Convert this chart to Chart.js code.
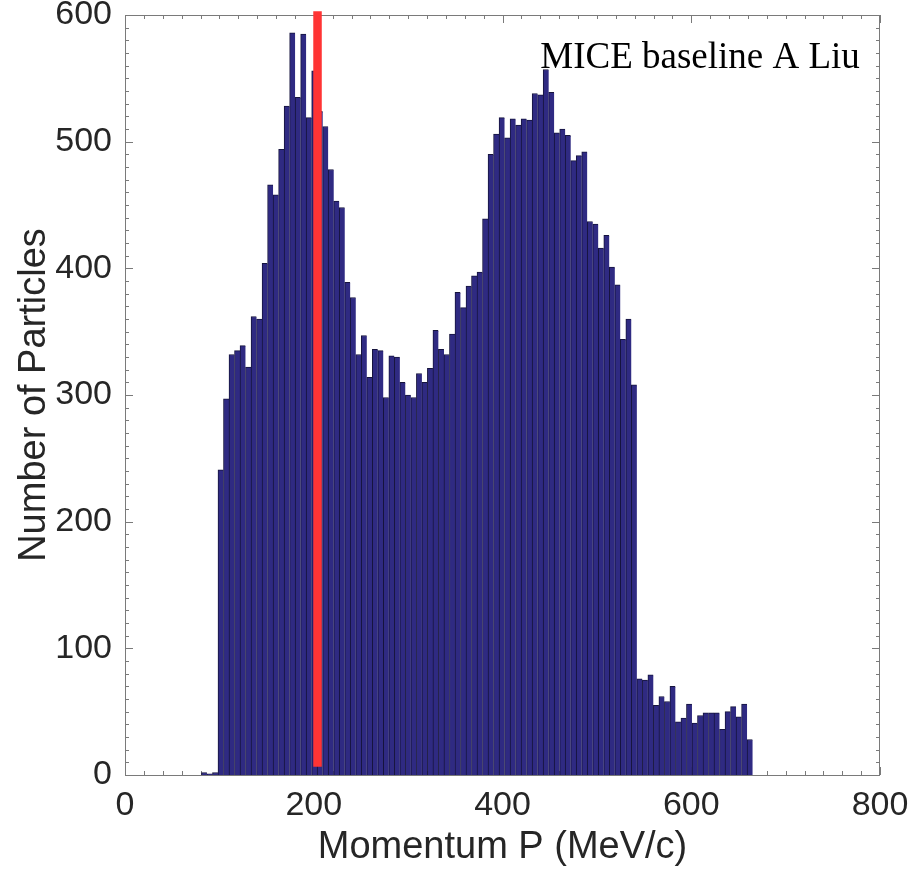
<!DOCTYPE html>
<html>
<head>
<meta charset="utf-8">
<script src="https://cdn.jsdelivr.net/npm/chart.js@4/dist/chart.umd.min.js"></script>
<style>
  html, body { margin: 0; padding: 0; background: #ffffff; }
  #wrap { width: 912px; height: 872px; }
</style>
</head>
<body>
<div id="wrap"><canvas id="c" width="912" height="872"></canvas></div>
<script>
// ---- data ----
const binStart = 81.0;      // MeV/c, left edge of first bin
const binWidth = 5.84;      // MeV/c
const counts = [
  2, 1, 2, 241, 297, 332, 335, 339, 322, 362,
  360, 404, 466, 458, 494, 528, 586, 535, 585, 519,
  556, 524, 512, 478, 453, 448, 389, 377, 332, 347,
  314, 336, 335, 298, 331, 330, 310, 300, 298, 317,
  310, 321, 351, 336, 332, 348, 381, 369, 386, 394,
  397, 439, 490, 506, 519, 503, 518, 513, 518, 517,
  538, 537, 557, 539, 507, 510, 505, 485, 489, 492,
  437, 435, 416, 426, 401, 387, 344, 360, 308, 76,
  75, 79, 55, 62, 58, 70, 42, 45, 56, 41,
  47, 49, 49, 49, 36, 50, 54, 46, 56, 28
];
const markerX = [204, 204];
const markerY = [6.5, 603];
const xTicks = [0, 200, 400, 600, 800];
const yTicks = [0, 100, 200, 300, 400, 500, 600];
const xTitle = 'Momentum P (MeV/c)';
const yTitle = 'Number of Particles';
const noteText = 'MICE baseline A Liu';
const notePos = { x: 440, y: 558 };

// ---- build datasets ----
const histData = counts.map((c, i) => ({ x: binStart + binWidth * (i + 0.5), y: c }));
const lineData = markerX.map((x, i) => ({ x: x, y: markerY[i] }));

const SANS = '"Liberation Sans", Arial, Helvetica, sans-serif';
const AX = '#7a7a7a';

const framePlugin = {
  id: 'frame',
  beforeDatasetsDraw(chart) {
    const { ctx, chartArea: a, scales } = chart;
    const xs = scales.x, ys = scales.y;
    ctx.save();
    ctx.strokeStyle = AX;
    ctx.lineWidth = 1;
    ctx.beginPath();
    // x ticks (minor every 20, major every 200), bottom and top, pointing inward
    for (let v = 0; v <= 800; v += 20) {
      const px = Math.round(xs.getPixelForValue(v)) + 0.5;
      const len = (v % 200 === 0) ? 8 : 4;
      ctx.moveTo(px, a.bottom); ctx.lineTo(px, a.bottom - len);
      ctx.moveTo(px, a.top); ctx.lineTo(px, a.top + len);
    }
    // y ticks (minor every 10, major every 100), left and right
    for (let v = 0; v <= 600; v += 10) {
      const py = Math.round(ys.getPixelForValue(v)) + 0.5;
      const len = (v % 100 === 0) ? 8 : 4;
      ctx.moveTo(a.left, py); ctx.lineTo(a.left + len, py);
      ctx.moveTo(a.right, py); ctx.lineTo(a.right - len, py);
    }
    ctx.stroke();
    ctx.strokeRect(Math.round(a.left) + 0.5, Math.round(a.top) + 0.5,
                   Math.round(a.right - a.left) - 1, Math.round(a.bottom - a.top));
    ctx.restore();
  },
  afterDatasetsDraw(chart) {
    const { ctx, scales } = chart;
    ctx.save();
    ctx.fillStyle = '#000000';
    ctx.font = '37px "Liberation Serif", "Times New Roman", serif';
    ctx.textAlign = 'left';
    ctx.textBaseline = 'alphabetic';
    ctx.fillText(noteText, scales.x.getPixelForValue(notePos.x), scales.y.getPixelForValue(notePos.y));
    ctx.restore();
  }
};

new Chart(document.getElementById('c'), {
  data: {
    datasets: [
      {
        type: 'line',
        data: lineData,
        borderColor: '#ff3434',
        borderWidth: 8.5,
        pointRadius: 0,
        clip: false,
        order: 0
      },
      {
        type: 'bar',
        data: histData,
        backgroundColor: '#2f2a82',
        borderColor: '#16143d',
        borderWidth: { top: 1, left: 1, right: 0, bottom: 0 },
        borderSkipped: false,
        barPercentage: 1.0,
        categoryPercentage: 1.0,
        grouped: false,
        order: 1
      }
    ]
  },
  options: {
    responsive: false,
    animation: false,
    devicePixelRatio: 1,
    layout: { padding: { top: 15, right: 32, bottom: 0, left: 0 } },
    plugins: { legend: { display: false }, tooltip: { enabled: false }, title: { display: false } },
    scales: {
      x: {
        type: 'linear',
        min: 0, max: 800,
        offset: false,
        grid: { display: false, drawTicks: false },
        border: { display: false },
        ticks: {
          stepSize: 200,
          padding: 10,
          color: '#262626',
          font: { family: SANS, size: 34 },
          maxRotation: 0,
          callback: (v) => xTicks.includes(v) ? String(v) : ''
        },
        title: {
          display: true, text: xTitle, color: '#262626',
          font: { family: SANS, size: 38 },
          padding: { top: 0, bottom: 2 }
        },
        afterFit(s) { s.height = 97; s.paddingLeft = 0; s.paddingRight = 0; }
      },
      y: {
        type: 'linear',
        min: 0, max: 600,
        grid: { display: false, drawTicks: false },
        border: { display: false },
        ticks: {
          stepSize: 100,
          padding: 13,
          color: '#262626',
          font: { family: SANS, size: 34 },
          callback: (v) => yTicks.includes(v) ? String(v) : ''
        },
        title: {
          display: true, text: yTitle, color: '#262626',
          font: { family: SANS, size: 38 },
          padding: { top: 12, bottom: 0 }
        },
        afterFit(s) { s.width = 125; s.paddingTop = 0; s.paddingBottom = 0; }
      }
    }
  },
  plugins: [framePlugin]
});
</script>
</body>
</html>
